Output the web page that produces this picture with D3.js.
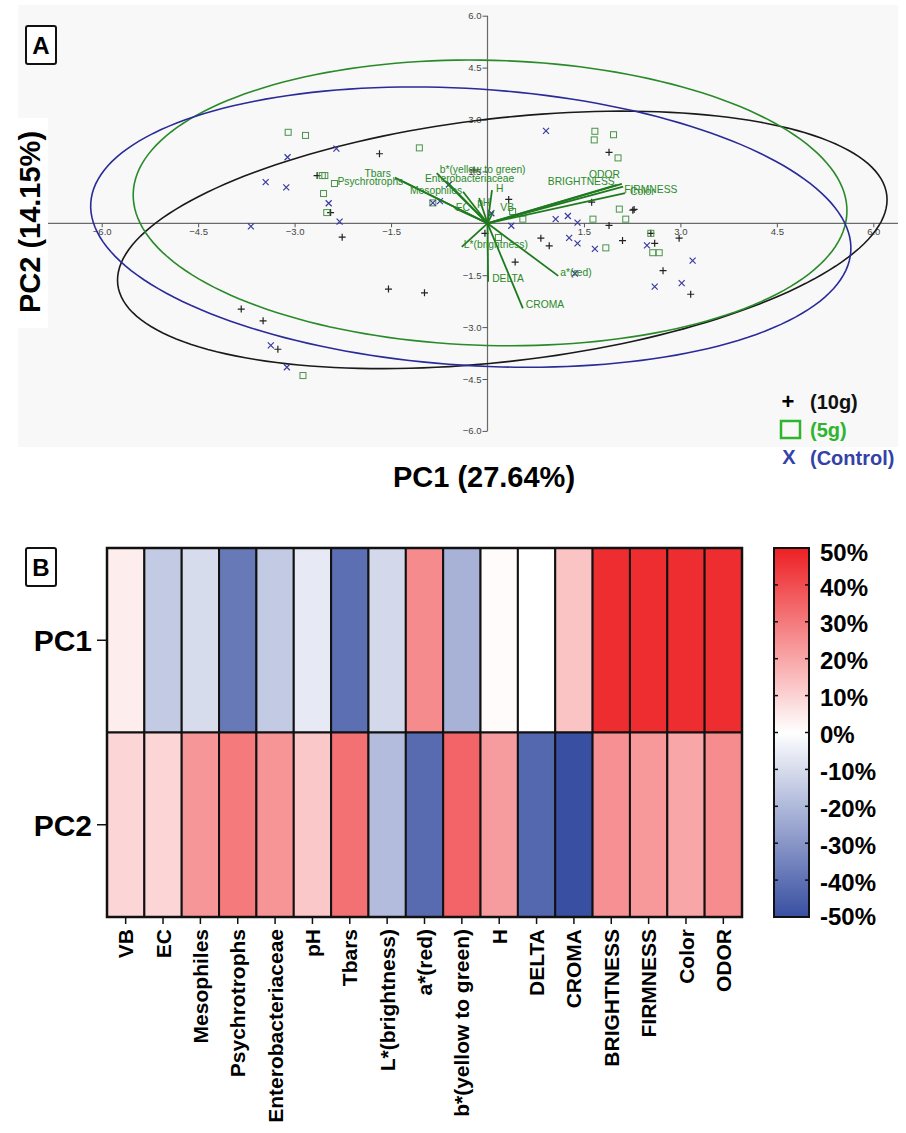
<!DOCTYPE html>
<html><head><meta charset="utf-8">
<script src="https://cdn.jsdelivr.net/npm/d3@7"></script>
<style>body{margin:0;background:#fff;} svg{display:block;font-family:"Liberation Sans",Arial,sans-serif;}</style>
</head><body><svg id="c" width="906" height="1133"></svg>
<script>
// ---------- Panel A data (PC1, PC2 scores) ----------
const scores10g = [[-2.65,1.38],[-2.44,0.31],[-1.68,2.01],[-2.26,-0.40],[-0.04,-0.29],[-3.83,-2.48],[-3.49,-2.82],[-3.26,-3.64],
  [-1.54,-1.90],[-0.98,-2.01],[-0.21,1.54],[1.89,2.05],[0.33,0.69],[1.62,0.61],[2.26,0.38],[2.28,0.40],[1.89,-0.06],[2.54,-0.29],
  [0.83,-0.43],[0.96,-0.65],[2.10,-0.50],[2.60,-0.58],[2.98,-0.43],[0.43,-1.12],[2.73,-1.37],[3.16,-2.05]];
const scores5g = [[-3.10,2.63],[-2.83,2.54],[-1.06,2.18],[-2.57,1.38],[-2.53,1.38],[-2.38,1.15],[-2.55,0.86],[-2.50,0.31],[-0.85,0.59],
  [-2.87,-4.40],[1.67,2.66],[1.96,2.56],[1.66,2.41],[2.03,1.89],[0.39,0.34],[2.05,0.41],[0.55,0.12],[1.64,0.12],[2.15,0.12],
  [2.54,-0.29],[1.84,-0.71],[2.57,-0.85],[2.67,-0.85],[0.17,-0.41]];
const scoresControl = [[-2.35,2.16],[-3.11,1.91],[-3.45,1.19],[-3.13,1.04],[-2.47,0.58],[-2.30,0.05],[-3.68,-0.09],[-0.85,0.59],
  [-0.74,0.64],[-0.60,1.12],[-3.37,-3.53],[-3.12,-4.16],[0.91,2.67],[0.06,0.29],[1.06,0.12],[1.25,0.21],[1.40,0.02],[0.37,-0.07],
  [1.27,-0.42],[1.40,-0.58],[1.67,-0.74],[2.48,-0.64],[3.19,-1.08],[1.36,-1.45],[2.60,-1.83],[3.02,-1.73]];

// confidence ellipses: centre and two conjugate semi-axis vectors (data units)
const ellipseGroups = ["10g","5g","Control"];
const ellipseCentre = [[0.23,-0.48],[0.04,0.59],[-0.26,-0.11]];
const ellipseAxisU = [[5.98,1.29],[5.55,-0.27],[5.91,-0.70]];
const ellipseAxisV = [[0.217,-3.49],[-0.059,-4.12],[-0.136,-3.99]];

// loadings (biplot vectors)
const loadingNames = ["Tbars","Psychrotrophs","Mesophiles","b*(yellow to green)","Enterobacteriaceae","EC","pH","H","VB",
  "L*(brightness)","DELTA","CROMA","a*(red)","BRIGHTNESS","ODOR","FIRMNESS","Color"];
const loadingPC1 = [-1.44,-1.31,-0.38,-0.79,-0.63,-0.51,-0.13,0.07,0.09,-0.40,0.01,0.55,1.10,2.01,2.09,2.11,2.14];
const loadingPC2 = [1.32,1.20,0.91,1.45,1.20,0.44,0.73,0.96,0.34,-0.68,-1.69,-2.46,-1.52,1.11,1.14,1.06,0.87];

const axisTicks = [-6,-4.5,-3,-1.5,1.5,3,4.5,6];
const xTitle = "PC1 (27.64%)";
const yTitle = "PC2 (14.15%)";
const legendLabels = ["(10g)","(5g)","(Control)"];

// ---------- Panel B data (% loadings) ----------
const heatVars = ["VB","EC","Mesophiles","Psychrotrophs","Enterobacteriaceae","pH","Tbars","L*(brightness)","a*(red)",
  "b*(yellow to green)","H","DELTA","CROMA","BRIGHTNESS","FIRMNESS","Color","ODOR"];
const heatRows = ["PC1","PC2"];
const heatPC1 = [4,-15,-10,-38,-15,-6,-41,-11,26,-22,1,0,13.5,47,47,47,47];
const heatPC2 = [9.4,9.2,23.5,29.8,24,12.3,32,-19,-42,34.8,22.2,-43,-50,25,23,20,25.8];
const colorbarTicks = [50,40,30,20,10,0,-10,-20,-30,-40,-50];

// ---------- layout / style ----------
const svg = d3.select("#c");
const font = '"Liberation Sans",Arial,sans-serif';
const labelLayout = {
  "Tbars":{a:"end",dx:-4,dy:-1}, "Psychrotrophs":{a:"end",dx:0,dy:3.5}, "Mesophiles":{a:"end",dx:-1,dy:2},
  "b*(yellow to green)":{a:"start",dx:3,dy:0}, "Enterobacteriaceae":{a:"start",dx:-22,dy:0}, "EC":{a:"start",dx:1,dy:3},
  "pH":{a:"start",dx:-2,dy:8}, "H":{a:"start",dx:4,dy:2}, "VB":{a:"start",dx:7,dy:-0.5}, "L*(brightness)":{a:"start",dx:2,dy:1.5},
  "DELTA":{a:"start",dx:4,dy:0}, "CROMA":{a:"start",dx:3,dy:0}, "a*(red)":{a:"start",dx:2,dy:0},
  "BRIGHTNESS":{a:"end",dx:-2,dy:0}, "ODOR":{a:"end",dx:-2,dy:-6}, "FIRMNESS":{a:"start",dx:1,dy:6}, "Color":{a:"start",dx:5,dy:2}
};
const ellipseColors = ["#1a1a1a","#2a8a2a","#2a2a98"];

// Panel A background
svg.append("rect").attr("x",18).attr("y",5).attr("width",880).attr("height",442).attr("fill","#f7f8f7");

const x = d3.scaleLinear().domain([-6,6]).range([101.7,873.3]);
const y = d3.scaleLinear().domain([-6,6]).range([430.9,15.7]);

const gA = svg.append("g");
// axes lines
gA.append("line").attr("x1",18).attr("x2",898).attr("y1",y(0)).attr("y2",y(0)).attr("stroke","#6a6a6a").attr("stroke-width",1.2);
gA.append("line").attr("x1",x(0)).attr("x2",x(0)).attr("y1",y(6)).attr("y2",y(-6)).attr("stroke","#6a6a6a").attr("stroke-width",1.2);

const xAxis = d3.axisBottom(x).tickValues(axisTicks).tickSize(4).tickFormat(d3.format(".1f"));
const gx = gA.append("g").attr("transform",`translate(0,${y(0)})`).call(xAxis);
const yAxis = d3.axisLeft(y).tickValues(axisTicks).tickSize(5).tickFormat(d3.format(".1f"));
const gy = gA.append("g").attr("transform",`translate(${x(0)},0)`).call(yAxis);
[gx,gy].forEach(g=>{
  g.select(".domain").remove();
  g.selectAll("line").attr("stroke","#555");
  g.selectAll("text").attr("fill","#444").attr("font-size",9.5).attr("font-family",font);
});
gx.selectAll("text").attr("dy","0.95em").attr("y",3);
gy.selectAll("text").attr("x",-6);

// ellipses
const tSteps = d3.range(0,361,2).map(d=>d*Math.PI/180);
const ellLine = d3.line().x(d=>d[0]).y(d=>d[1]).curve(d3.curveLinearClosed);
ellipseGroups.forEach((g,i)=>{
  const c=ellipseCentre[i],u=ellipseAxisU[i],v=ellipseAxisV[i];
  const pts = tSteps.map(t=>[x(c[0]+u[0]*Math.cos(t)+v[0]*Math.sin(t)), y(c[1]+u[1]*Math.cos(t)+v[1]*Math.sin(t))]);
  gA.append("path").attr("d",ellLine(pts)).attr("fill","none").attr("stroke",ellipseColors[i]).attr("stroke-width",1.6);
});

// points
const gp = gA.append("g");
scores10g.forEach(d=>{
  const px=x(d[0]),py=y(d[1]);
  gp.append("path").attr("d",`M${px-3.5},${py}H${px+3.5}M${px},${py-3.5}V${py+3.5}`).attr("stroke","#222").attr("stroke-width",1.2);
});
scores5g.forEach(d=>{
  gp.append("rect").attr("x",x(d[0])-3).attr("y",y(d[1])-3).attr("width",6).attr("height",6)
    .attr("fill","none").attr("stroke","#4a944a").attr("stroke-width",1);
});
scoresControl.forEach(d=>{
  const px=x(d[0]),py=y(d[1]);
  gp.append("path").attr("d",`M${px-3},${py-3}L${px+3},${py+3}M${px-3},${py+3}L${px+3},${py-3}`).attr("stroke","#3a3aa0").attr("stroke-width",1.2);
});

// loading vectors
loadingNames.forEach((n,i)=>{
  gA.append("line").attr("x1",x(0)).attr("y1",y(0)).attr("x2",x(loadingPC1[i])).attr("y2",y(loadingPC2[i]))
    .attr("stroke","#1f7a1f").attr("stroke-width",1.8);
});
loadingNames.forEach((n,i)=>{
  const L=labelLayout[n];
  gA.append("text").attr("x",x(loadingPC1[i])+L.dx).attr("y",y(loadingPC2[i])+L.dy).attr("text-anchor",L.a)
    .attr("font-size",10.3).attr("fill","#2b8a2b").text(n);
});

// titles
svg.append("rect").attr("x",8).attr("y",118).attr("width",40).attr("height",210).attr("fill","#fff");
svg.append("text").attr("transform",`translate(30,222) rotate(-90)`).attr("text-anchor","middle").attr("dy","0.36em")
  .attr("font-size",29).attr("font-weight","bold").text(yTitle);
svg.append("text").attr("x",484).attr("y",487).attr("text-anchor","middle")
  .attr("font-size",29).attr("font-weight","bold").text(xTitle);

// panel letters
[["A",26],["B",548]].forEach(([t,yy])=>{
  svg.append("rect").attr("x",26).attr("y",yy).attr("width",30).attr("height",38).attr("rx",2)
    .attr("fill","#fff").attr("stroke","#111").attr("stroke-width",2);
  svg.append("text").attr("x",41).attr("y",yy+19).attr("dy","0.36em").attr("text-anchor","middle")
    .attr("font-size",24).attr("font-weight","bold").text(t);
});

// legend
const lg = svg.append("g").attr("font-weight","bold").attr("font-size",20);
lg.append("text").attr("x",788).attr("y",409).attr("text-anchor","middle").attr("font-size",22).text("+");
lg.append("text").attr("x",810).attr("y",409).attr("fill","#111").text(legendLabels[0]);
lg.append("rect").attr("x",781).attr("y",421).attr("width",19).attr("height",17).attr("fill","none").attr("stroke","#2db52d").attr("stroke-width",2.5);
lg.append("text").attr("x",810).attr("y",437).attr("fill","#2db52d").text(legendLabels[1]);
lg.append("text").attr("x",789).attr("y",464).attr("text-anchor","middle").attr("fill","#3442a8").text("X");
lg.append("text").attr("x",810).attr("y",465).attr("fill","#3442a8").text(legendLabels[2]);

// ---------- Panel B ----------
const color = d3.scaleLinear().domain([-50,0,50]).range(["#384fa2","#ffffff","#ed2024"]);
const hx = d3.scaleBand().domain(heatVars).range([107,742]);
const hy = d3.scaleBand().domain(heatRows).range([548,917]);
const cells = [];
heatVars.forEach((v,i)=>{ cells.push({v,r:"PC1",val:heatPC1[i]}); cells.push({v,r:"PC2",val:heatPC2[i]}); });
svg.append("g").selectAll("rect").data(cells).join("rect")
  .attr("x",d=>hx(d.v)).attr("y",d=>hy(d.r)).attr("width",hx.bandwidth()).attr("height",hy.bandwidth())
  .attr("fill",d=>color(d.val)).attr("stroke","#111").attr("stroke-width",2);
svg.append("rect").attr("x",107).attr("y",548).attr("width",635).attr("height",369).attr("fill","none").attr("stroke","#111").attr("stroke-width",2.5);

// heat axes
heatVars.forEach(v=>{
  const cx = hx(v)+hx.bandwidth()/2;
  svg.append("line").attr("x1",cx).attr("x2",cx).attr("y1",917).attr("y2",924).attr("stroke","#111").attr("stroke-width",1.5);
  svg.append("text").attr("transform",`translate(${cx},929) rotate(-90)`).attr("text-anchor","end").attr("dy","0.36em")
    .attr("font-size",21).attr("font-weight","bold").text(v);
});
heatRows.forEach(r=>{
  const cy = hy(r)+hy.bandwidth()/2;
  svg.append("line").attr("x1",97).attr("x2",107).attr("y1",cy).attr("y2",cy).attr("stroke","#111").attr("stroke-width",1.5);
  svg.append("text").attr("x",92).attr("y",cy).attr("dy","0.36em").attr("text-anchor","end")
    .attr("font-size",30).attr("font-weight","bold").text(r);
});

// colorbar
const cb = d3.scaleLinear().domain([50,-50]).range([548,917]);
const grad = svg.append("defs").append("linearGradient").attr("id","cbg").attr("x1",0).attr("x2",0).attr("y1",0).attr("y2",1);
d3.range(50,-51,-5).forEach(v=>{
  grad.append("stop").attr("offset",(50-v)/100).attr("stop-color",color(v));
});
svg.append("rect").attr("x",774).attr("y",548).attr("width",35).attr("height",369).attr("fill","url(#cbg)")
  .attr("stroke","#111").attr("stroke-width",2);
colorbarTicks.forEach(v=>{
  if(v!==50 && v!==-50){
    svg.append("line").attr("x1",774).attr("x2",778).attr("y1",cb(v)).attr("y2",cb(v)).attr("stroke","#111").attr("stroke-width",1.5);
    svg.append("line").attr("x1",805).attr("x2",809).attr("y1",cb(v)).attr("y2",cb(v)).attr("stroke","#111").attr("stroke-width",1.5);
  }
  svg.append("text").attr("x",820).attr("y",cb(v)+ (v===50?4:(v===-50?-1:2))).attr("dy","0.36em")
    .attr("font-size",24).attr("font-weight","bold").text(v+"%");
});
</script></body></html>
